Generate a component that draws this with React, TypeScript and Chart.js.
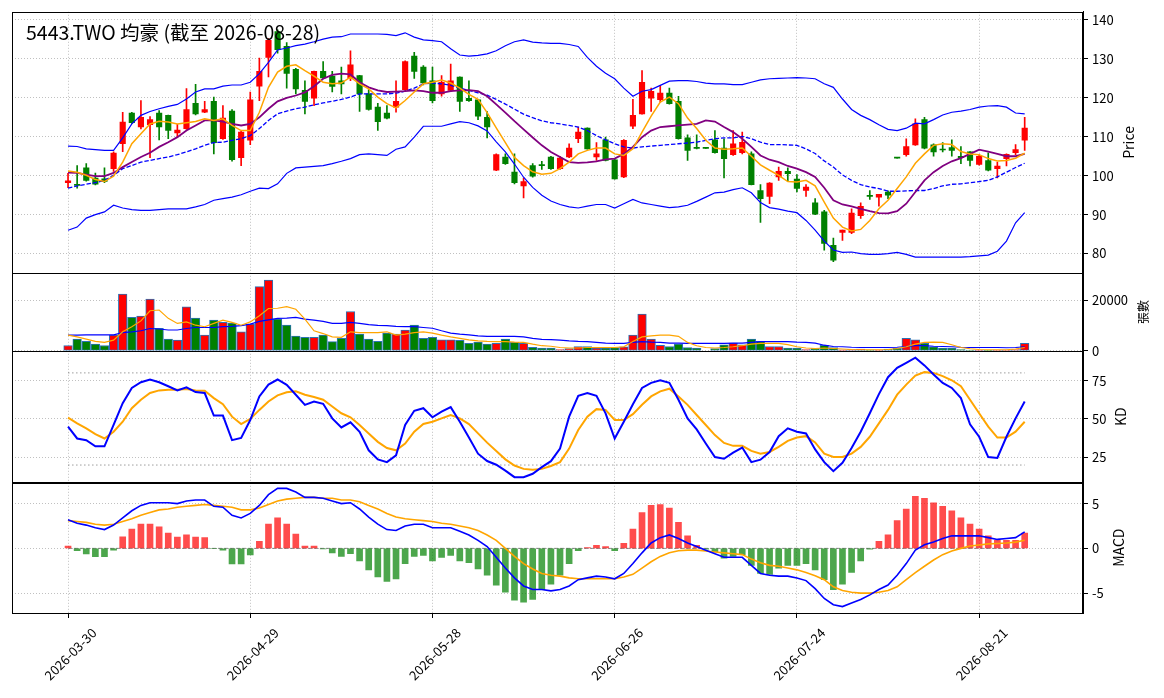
import React, { useEffect, useRef } from 'react';
import Chart from 'chart.js/auto';

// 5443.TWO daily data
const dates = [
  '2026-03-30', '2026-03-31', '2026-04-01', '2026-04-02', '2026-04-07', '2026-04-08', '2026-04-09', '2026-04-10', '2026-04-13', '2026-04-14',
  '2026-04-15', '2026-04-16', '2026-04-17', '2026-04-20', '2026-04-21', '2026-04-22', '2026-04-23', '2026-04-24', '2026-04-27', '2026-04-28',
  '2026-04-29', '2026-04-30', '2026-05-04', '2026-05-05', '2026-05-06', '2026-05-07', '2026-05-08', '2026-05-11', '2026-05-12', '2026-05-13',
  '2026-05-14', '2026-05-15', '2026-05-18', '2026-05-19', '2026-05-20', '2026-05-21', '2026-05-22', '2026-05-25', '2026-05-26', '2026-05-27',
  '2026-05-28', '2026-05-29', '2026-06-01', '2026-06-02', '2026-06-03', '2026-06-04', '2026-06-05', '2026-06-08', '2026-06-09', '2026-06-10',
  '2026-06-11', '2026-06-12', '2026-06-15', '2026-06-16', '2026-06-17', '2026-06-18', '2026-06-22', '2026-06-23', '2026-06-24', '2026-06-25',
  '2026-06-26', '2026-06-29', '2026-06-30', '2026-07-01', '2026-07-02', '2026-07-03', '2026-07-06', '2026-07-07', '2026-07-08', '2026-07-09',
  '2026-07-10', '2026-07-13', '2026-07-14', '2026-07-15', '2026-07-16', '2026-07-17', '2026-07-20', '2026-07-21', '2026-07-22', '2026-07-23',
  '2026-07-24', '2026-07-27', '2026-07-28', '2026-07-29', '2026-07-30', '2026-07-31', '2026-08-03', '2026-08-04', '2026-08-05', '2026-08-06',
  '2026-08-07', '2026-08-10', '2026-08-11', '2026-08-12', '2026-08-13', '2026-08-14', '2026-08-17', '2026-08-18', '2026-08-19', '2026-08-20',
  '2026-08-21', '2026-08-24', '2026-08-25', '2026-08-26', '2026-08-27', '2026-08-28',
];

const opens = [
  98.2, 97.8, 102.0, 99.4, 99.2, 101.8, 108.2, 116.1, 112.5, 113.1,
  116.1, 115.5, 111.0, 112.1, 118.6, 116.3, 119.1, 109.5, 116.6, 104.6,
  109.1, 123.0, 130.4, 137.0, 133.2, 127.3, 121.9, 119.9, 126.8, 125.6,
  124.4, 125.0, 125.7, 121.0, 117.6, 116.1, 117.6, 122.1, 130.7, 127.9,
  124.4, 121.0, 121.9, 125.3, 119.9, 119.5, 115.0, 101.4, 104.8, 100.9,
  97.4, 102.6, 102.8, 104.8, 101.8, 104.8, 109.5, 112.2, 104.8, 109.2,
  104.1, 99.7, 112.7, 115.9, 119.9, 119.5, 121.2, 119.1, 109.7, 107.0,
  107.0, 109.2, 107.1, 105.4, 105.9, 105.6, 96.2, 94.7, 99.7, 101.1,
  99.1, 96.2, 93.0, 90.7, 82.1, 85.4, 85.4, 89.7, 94.9, 94.5,
  95.8, 104.5, 105.4, 107.9, 114.4, 107.9, 106.8, 107.2, 105.0, 106.1,
  102.9, 103.9, 101.8, 104.4, 105.9, 109.1,
];
const highs = [
  100.6, 102.6, 103.1, 100.7, 102.0, 106.1, 116.3, 116.3, 119.3, 115.2,
  116.7, 115.6, 113.2, 122.4, 123.5, 119.1, 120.2, 118.0, 117.0, 111.4,
  121.5, 130.2, 135.2, 137.5, 134.2, 127.6, 124.4, 126.9, 129.3, 126.8,
  127.9, 132.1, 125.8, 122.1, 118.6, 118.0, 124.4, 129.5, 131.7, 128.3,
  127.9, 125.7, 128.7, 125.4, 124.4, 119.6, 116.5, 105.6, 105.6, 105.6,
  99.4, 103.1, 103.7, 105.0, 105.0, 108.2, 112.5, 112.3, 108.5, 109.9,
  104.2, 109.3, 119.6, 127.0, 122.5, 123.2, 122.5, 120.4, 110.5, 110.5,
  107.0, 111.6, 109.5, 111.6, 111.2, 106.1, 97.7, 98.2, 102.2, 102.0,
  100.3, 97.7, 94.1, 91.1, 84.0, 86.0, 91.5, 93.0, 96.2, 95.2,
  96.1, 104.5, 109.5, 114.6, 115.0, 108.2, 108.5, 109.2, 107.5, 106.2,
  105.4, 105.9, 103.5, 105.6, 108.0, 115.0,
];
const lows = [
  96.9, 96.8, 98.6, 97.6, 98.2, 101.1, 106.2, 113.4, 112.0, 104.6,
  109.2, 109.5, 109.9, 111.9, 115.6, 116.2, 105.6, 109.3, 103.7, 102.6,
  108.0, 119.3, 125.4, 131.5, 122.5, 121.0, 115.9, 118.0, 124.9, 121.5,
  121.0, 124.4, 116.5, 116.8, 111.6, 114.6, 116.3, 121.8, 125.0, 123.3,
  118.7, 120.4, 121.6, 116.5, 119.1, 114.4, 109.7, 101.3, 102.9, 97.9,
  94.3, 99.6, 101.6, 101.6, 101.6, 104.6, 108.5, 106.8, 103.9, 103.8,
  99.1, 99.5, 112.1, 115.8, 116.5, 118.9, 118.4, 109.4, 103.9, 106.9,
  107.0, 105.8, 99.4, 105.2, 105.6, 97.6, 88.0, 92.8, 98.8, 98.5,
  95.8, 94.7, 90.0, 80.9, 77.9, 83.4, 85.1, 89.0, 93.9, 92.2,
  94.1, 104.5, 105.0, 107.8, 106.9, 105.0, 106.1, 105.0, 103.1, 102.5,
  102.7, 101.2, 99.4, 102.5, 105.4, 106.5,
];
const closes = [
  98.7, 97.5, 98.8, 97.8, 98.5, 105.8, 113.8, 113.6, 115.0, 114.4,
  112.5, 111.6, 111.7, 117.0, 115.9, 117.0, 108.5, 114.8, 104.1, 111.2,
  119.5, 126.8, 134.8, 132.4, 126.3, 122.3, 119.1, 126.8, 125.1, 122.9,
  123.6, 128.5, 121.0, 117.0, 113.9, 114.8, 119.1, 129.3, 126.8, 123.8,
  119.3, 124.0, 124.4, 119.1, 119.3, 115.3, 112.5, 105.4, 103.1, 98.2,
  98.5, 99.9, 102.6, 101.8, 104.5, 107.1, 111.2, 106.9, 105.6, 103.9,
  99.2, 109.1, 115.5, 124.0, 121.7, 121.2, 118.5, 109.5, 106.5, 107.0,
  107.0, 105.9, 104.4, 108.2, 108.6, 97.7, 94.1, 98.1, 101.1, 100.5,
  96.7, 97.1, 90.1, 82.6, 78.3, 86.0, 90.4, 92.1, 94.7, 95.2,
  95.0, 104.5, 107.5, 113.3, 107.1, 106.1, 106.6, 106.5, 104.6, 103.9,
  105.0, 101.4, 102.5, 105.5, 106.7, 112.2,
];

const ma5 = [
  101.2, 100.9, 100.1, 99.0, 98.5, 99.9, 103.5, 108.2, 110.8, 113.3,
  114.0, 113.8, 113.3, 113.6, 113.9, 114.6, 114.2, 114.6, 112.9, 111.6,
  111.6, 116.3, 122.7, 126.6, 128.1, 128.5, 127.0, 125.6, 124.0, 123.6,
  123.8, 125.3, 123.6, 122.3, 120.2, 118.5, 117.4, 119.3, 121.5, 123.6,
  124.0, 124.6, 123.8, 122.5, 120.9, 119.6, 116.2, 112.3, 108.5, 104.7,
  102.6, 101.0, 100.4, 100.6, 101.8, 103.5, 105.6, 106.5, 107.1, 107.1,
  105.6, 105.2, 106.9, 111.2, 115.3, 118.9, 120.2, 118.5, 114.8, 112.1,
  109.1, 107.1, 106.8, 106.9, 107.1, 105.0, 102.8, 101.4, 100.1, 98.5,
  98.4, 98.8, 97.4, 93.2, 89.1, 86.8, 85.8, 86.2, 88.5, 91.5,
  93.7, 96.7, 99.7, 103.2, 105.6, 107.8, 108.2, 108.0, 106.2, 105.6,
  105.4, 104.4, 103.8, 103.9, 104.5, 105.8,
];
const ma10 = [
  100.8, 100.7, 100.3, 99.9, 99.9, 100.7, 102.2, 103.5, 104.8, 105.9,
  107.4, 108.6, 109.9, 111.6, 112.9, 114.2, 114.2, 113.9, 113.3, 112.9,
  113.3, 115.0, 117.2, 119.1, 120.0, 120.6, 121.4, 123.0, 124.9, 125.9,
  126.2, 126.0, 124.0, 122.7, 121.9, 121.5, 121.6, 121.7, 121.9, 121.7,
  121.3, 121.3, 121.7, 121.9, 122.0, 121.7, 120.4, 118.3, 116.2, 114.0,
  111.9, 109.8, 107.8, 106.1, 104.8, 103.5, 103.3, 103.4, 103.7, 104.2,
  104.4, 105.6, 107.4, 109.9, 111.6, 112.5, 112.7, 112.9, 113.1, 113.3,
  114.2, 113.9, 112.5, 111.2, 109.5, 107.4, 105.2, 104.1, 103.5, 102.5,
  101.8, 100.9, 99.7, 96.9, 93.7, 92.6, 92.1, 91.5, 90.9, 90.4,
  90.3, 90.9, 92.8, 95.8, 98.8, 100.9, 102.5, 103.7, 104.5, 105.6,
  106.7, 106.2, 105.6, 105.0, 105.0, 105.6,
];
const ma20 = [
  96.8, 97.4, 97.8, 98.2, 98.8, 100.1, 101.8, 102.6, 103.5, 103.9,
  104.4, 104.8, 105.4, 106.1, 106.9, 107.8, 108.5, 108.6, 109.1, 109.5,
  110.3, 112.1, 114.2, 115.9, 116.6, 117.2, 117.6, 118.2, 118.7, 119.1,
  119.6, 120.2, 121.0, 121.0, 121.0, 121.0, 121.2, 121.7, 122.5, 123.6,
  123.8, 123.6, 123.2, 122.5, 121.9, 121.3, 120.7, 119.6, 118.4, 117.1,
  115.8, 114.9, 114.1, 113.6, 113.3, 112.9, 112.5, 111.6, 110.3, 109.2,
  108.2, 107.4, 107.1, 107.4, 107.6, 107.8, 108.0, 108.2, 108.4, 108.6,
  109.1, 109.5, 109.7, 109.7, 110.1, 109.5, 108.6, 108.0, 108.0, 107.9,
  107.8, 106.9, 105.7, 103.8, 102.2, 100.2, 98.8, 97.7, 97.1, 96.7,
  96.0, 96.0, 96.1, 96.2, 96.2, 96.7, 97.4, 97.8, 97.9, 98.2,
  98.5, 98.8, 99.7, 100.9, 102.1, 103.2,
];
const bbUpper = [
  107.6, 107.5, 106.9, 106.7, 106.5, 106.5, 109.7, 113.3, 115.5, 116.5,
  117.2, 117.8, 118.3, 119.7, 121.5, 122.3, 122.3, 123.0, 123.3, 123.3,
  124.0, 126.2, 129.1, 132.3, 132.8, 133.4, 133.8, 134.4, 135.1, 135.6,
  135.7, 136.4, 136.4, 136.4, 136.4, 136.3, 136.0, 136.7, 135.6, 134.9,
  134.7, 134.4, 132.6, 131.0, 130.7, 130.9, 131.3, 132.1, 133.4, 134.4,
  134.9, 134.3, 134.1, 134.0, 134.0, 133.7, 133.2, 130.4, 128.1, 126.3,
  124.9, 122.5, 120.4, 121.7, 122.1, 123.2, 124.3, 124.4, 124.4, 124.2,
  123.8, 123.6, 123.6, 123.4, 123.4, 124.0, 124.6, 124.9, 125.0, 125.1,
  125.2, 125.1, 124.9, 123.6, 122.7, 119.7, 117.0, 115.5, 114.4, 113.1,
  111.9, 111.6, 112.2, 113.5, 113.3, 114.4, 115.6, 116.3, 116.6, 117.0,
  117.6, 117.9, 118.0, 117.6, 116.1, 115.9,
];
const bbLower = [
  86.0, 86.8, 89.1, 90.0, 90.7, 92.4, 91.7, 91.3, 91.1, 91.1,
  91.3, 91.5, 91.5, 91.5, 92.0, 92.6, 93.7, 94.1, 94.5, 95.1,
  96.0, 96.8, 96.7, 97.9, 100.6, 102.0, 102.2, 102.4, 102.6, 103.1,
  103.7, 104.4, 105.4, 105.6, 105.4, 105.2, 106.8, 107.4, 109.9, 112.7,
  112.7, 112.7, 113.3, 113.9, 113.6, 112.8, 111.5, 108.7, 106.1, 103.0,
  99.6, 97.0, 95.0, 93.5, 92.6, 92.0, 91.7, 92.2, 92.6, 92.6,
  91.7, 92.8, 93.9, 93.0, 92.6, 92.2, 91.8, 92.0, 92.4, 93.4,
  94.5, 95.6, 95.8, 96.4, 96.9, 95.6, 93.1, 91.8, 91.4, 90.9,
  90.5, 88.5, 86.0, 83.2, 80.9, 80.3, 80.4, 80.0, 79.8, 79.8,
  80.0, 80.3, 79.8, 79.1, 79.1, 79.1, 79.1, 79.1, 79.1, 79.2,
  79.4, 79.6, 80.6, 83.2, 87.9, 90.5,
];

const volumes = [
  2100, 4600, 3700, 2600, 2100, 6200, 22400, 13200, 13700, 20400,
  8900, 4600, 4200, 17400, 12900, 6200, 12100, 11200, 10900, 7500,
  10500, 25300, 27900, 12500, 10100, 5800, 5300, 5300, 6200, 3600,
  4900, 15500, 6600, 4600, 3700, 7000, 6600, 8200, 10100, 4900,
  5300, 4300, 4300, 4100, 2900, 3400, 2600, 2900, 4600, 3300,
  2900, 1400, 1100, 1100, 500, 900, 1700, 1700, 1100, 1100,
  1300, 1600, 6200, 14500, 4600, 2200, 1700, 2600, 1300, 1100,
  0, 900, 2400, 3000, 2400, 4600, 3700, 1700, 1700, 1100,
  1100, 500, 900, 2200, 1300, 400, 500, 700, 400, 400,
  700, 1000, 4900, 4300, 2900, 1600, 1100, 1100, 500, 300,
  300, 150, 300, 300, 500, 2900,
];
const volMa5 = [
  6200, 5500, 4600, 3700, 3300, 4200, 7500, 9500, 11800, 15800,
  16100, 12800, 10800, 11400, 10100, 9500, 10800, 12100, 11200, 10100,
  11400, 13800, 16700, 16800, 17400, 16400, 12500, 7900, 6800, 5500,
  5300, 7500, 7200, 7200, 7200, 7500, 6200, 6600, 7200, 7500,
  7000, 6200, 5500, 4900, 4300, 3900, 3700, 3600, 3600, 3400,
  3300, 2600, 2000, 1800, 1300, 1100, 1100, 1300, 1300, 1300,
  1300, 1600, 3700, 5500, 5900, 6200, 6200, 5700, 3300, 2000,
  1300, 1100, 1300, 1600, 2000, 2600, 2900, 2900, 2900, 2400,
  1600, 1100, 900, 1100, 900, 700, 500, 400, 400, 400,
  500, 900, 1600, 2600, 3300, 3400, 3300, 2400, 1300, 800,
  500, 400, 400, 400, 700, 1300,
];
const volMa20 = [
  6200, 6200, 6300, 6300, 6300, 6300, 7200, 7500, 7900, 8800,
  8600, 8200, 8200, 8800, 9200, 9200, 9200, 9500, 9600, 9900,
  10500, 11600, 12200, 12800, 12900, 13200, 12500, 12100, 11600, 10800,
  10800, 11200, 10800, 10300, 10000, 9900, 9600, 9500, 9500, 9200,
  8900, 7900, 7000, 6600, 6300, 5900, 5700, 5700, 5700, 5700,
  5500, 4900, 4500, 4400, 4200, 3900, 3700, 3600, 3300, 3000,
  2900, 2900, 3300, 3600, 3400, 3300, 3000, 3000, 2900, 2900,
  2900, 2900, 2900, 3000, 3000, 3300, 3600, 3600, 3600, 3600,
  3400, 3300, 3000, 2200, 1700, 1600, 1400, 1300, 1300, 1300,
  1300, 1400, 1700, 2000, 2000, 1800, 1700, 1600, 1400, 1300,
  1300, 1300, 1300, 1200, 1300, 1600,
];

const kValues = [
  45.0, 37.3, 36.2, 32.2, 32.2, 46.1, 60.3, 70.2, 73.9, 75.7,
  73.9, 71.3, 68.6, 70.6, 67.5, 66.9, 52.2, 52.2, 36.2, 37.7,
  49.3, 64.7, 72.4, 75.7, 72.2, 65.8, 59.2, 61.4, 59.9, 50.4,
  44.5, 47.8, 41.7, 29.6, 23.7, 21.9, 26.3, 46.1, 55.3, 57.0,
  51.1, 54.8, 57.7, 48.2, 37.9, 27.4, 22.6, 20.2, 16.4, 12.1,
  12.1, 14.3, 18.6, 22.5, 30.7, 51.5, 65.1, 66.9, 65.1, 53.7,
  37.3, 48.2, 59.6, 70.2, 73.5, 75.2, 73.5, 62.5, 50.4, 43.2,
  34.0, 25.2, 24.1, 28.1, 31.4, 21.9, 23.5, 28.5, 38.8, 43.9,
  41.7, 40.6, 30.2, 21.9, 16.0, 21.5, 31.1, 41.7, 53.7, 66.2,
  77.2, 83.3, 86.6, 89.9, 84.9, 79.0, 73.5, 70.2, 63.6, 46.5,
  38.4, 25.2, 24.6, 38.4, 50.4, 61.4,
];
const dValues = [
  50.9, 47.1, 43.9, 40.1, 37.3, 41.7, 48.2, 57.0, 62.5, 66.9,
  68.6, 69.1, 69.1, 69.5, 68.6, 68.4, 63.6, 59.6, 51.5, 46.7,
  50.0, 55.9, 61.4, 65.4, 67.4, 68.0, 65.8, 64.3, 62.5, 58.1,
  53.7, 51.1, 46.1, 40.6, 35.1, 31.1, 29.6, 34.0, 41.7, 46.7,
  48.2, 50.4, 52.6, 50.4, 46.7, 40.6, 34.6, 29.2, 23.7, 19.7,
  17.5, 16.9, 17.5, 19.4, 21.9, 30.7, 42.8, 51.5, 56.4, 55.9,
  49.3, 49.3, 53.1, 59.2, 64.7, 68.0, 69.7, 64.7, 59.2, 52.6,
  46.1, 39.5, 34.4, 32.5, 32.5, 29.2, 27.4, 28.5, 31.8, 35.7,
  37.9, 38.8, 34.7, 27.4, 25.2, 25.2, 27.4, 31.8, 38.4, 47.1,
  55.9, 65.8, 72.4, 78.3, 80.5, 80.0, 77.9, 75.2, 71.3, 62.5,
  53.7, 45.0, 37.9, 37.9, 41.7, 48.2,
];
const kdLevels = [20, 80];

const dif = [
  3.2, 2.8, 2.6, 2.3, 2.1, 2.6, 3.4, 4.2, 4.8, 5.1,
  5.1, 5.1, 5.0, 5.3, 5.4, 5.4, 4.7, 4.6, 3.7, 3.4,
  3.9, 4.8, 6.0, 6.7, 6.7, 6.3, 5.7, 5.7, 5.6, 5.3,
  5.0, 5.1, 4.4, 3.5, 2.7, 2.1, 2.0, 2.5, 2.7, 2.7,
  2.3, 2.3, 2.3, 1.9, 1.5, 0.9, 0.2, -1.0, -2.2, -3.3,
  -4.2, -4.6, -4.6, -4.75, -4.6, -4.2, -3.5, -3.3, -3.1, -3.2,
  -3.4, -2.8, -1.7, -0.5, 0.6, 1.2, 1.5, 1.1, 0.6, 0.2,
  -0.2, -0.6, -1.0, -1.0, -1.0, -1.9, -2.8, -3.0, -3.1, -3.1,
  -3.3, -3.6, -4.5, -5.6, -6.3, -6.5, -6.1, -5.7, -5.2, -4.6,
  -4.1, -3.0, -1.7, -0.2, 0.4, 0.7, 1.1, 1.4, 1.4, 1.4,
  1.4, 1.2, 1.0, 1.1, 1.2, 1.85,
];
const dea = [
  3.1, 3.0, 2.9, 2.7, 2.6, 2.7, 3.0, 3.3, 3.7, 4.0,
  4.3, 4.4, 4.6, 4.7, 4.8, 4.9, 4.8, 4.7, 4.6, 4.3,
  4.3, 4.5, 4.9, 5.3, 5.5, 5.6, 5.7, 5.7, 5.6, 5.6,
  5.4, 5.4, 5.2, 4.8, 4.4, 3.9, 3.5, 3.3, 3.2, 3.1,
  3.0, 2.8, 2.7, 2.5, 2.3, 2.0, 1.5, 0.9, 0.0, -0.9,
  -1.7, -2.3, -2.8, -3.0, -3.1, -3.3, -3.4, -3.4, -3.4, -3.4,
  -3.4, -3.2, -2.9, -2.2, -1.5, -0.9, -0.5, -0.26, -0.2, -0.2,
  -0.3, -0.4, -0.5, -0.6, -0.7, -1.2, -1.6, -1.9, -2.0, -2.2,
  -2.4, -2.7, -3.05, -3.5, -4.3, -4.7, -4.9, -5.0, -5.0, -4.9,
  -4.7, -4.3, -3.5, -2.7, -2.0, -1.3, -0.7, -0.3, 0.0, 0.26,
  0.37, 0.5, 0.55, 0.6, 0.7, 0.9,
];
const macdHist = [
  0.26, -0.26, -0.63, -0.93, -0.93, -0.2, 1.3, 2.15, 2.7, 2.7,
  2.4, 1.7, 1.26, 1.5, 1.26, 1.2, -0.04, -0.2, -1.74, -1.74,
  -0.74, 0.8, 2.7, 3.4, 2.7, 1.6, 0.26, 0.26, -0.05, -0.5,
  -0.9, -0.6, -1.4, -2.4, -3.2, -3.7, -3.4, -1.7, -0.9, -0.8,
  -1.4, -1.0, -0.8, -1.4, -1.6, -2.3, -3.0, -4.1, -4.9, -5.8,
  -6.0, -5.7, -4.6, -4.0, -3.0, -1.7, -0.26, 0.1, 0.33, 0.2,
  -0.26, 0.55, 2.15, 4.0, 4.8, 4.9, 4.5, 2.9, 1.4, 0.33,
  -0.1, -0.4, -1.1, -0.9, -0.7, -1.9, -2.8, -2.9, -2.2, -1.9,
  -1.9, -1.7, -2.4, -3.5, -4.6, -4.0, -2.7, -1.4, -0.1, 0.8,
  1.5, 3.1, 4.4, 5.8, 5.6, 5.1, 4.7, 4.2, 3.4, 2.7,
  2.15, 1.4, 0.9, 0.9, 0.9, 1.7,
];

const xTickIdx = [0, 20, 40, 60, 80, 100];
const priceTicks = [80, 90, 100, 110, 120, 130, 140];
const volumeTicks = [0, 20000];
const kdTicks = [25, 50, 75];
const macdTicks = [-5, 0, 5];

const titleText = '5443.TWO 均豪 (截至 2026-08-28)';
const FONT = '"Noto Sans CJK TC", "Noto Sans", "DejaVu Sans", sans-serif';
const UP = '#ff0000';
const DOWN = '#008000';
const GRID = '#b0b0b0';

const pts = (arr: number[]) => arr.map((y, x) => ({ x, y }));
const lastIdx = dates.length - 1;

const yAxis = (stackWeight: number, weight: number, min: number, max: number, tickVals: number[]) => ({
  type: 'linear',
  position: 'right',
  stack: 'panels',
  stackWeight,
  weight,
  min,
  max,
  afterBuildTicks: (s: any) => {
    s.ticks = tickVals.map(v => ({ value: v }));
  },
  afterFit: (s: any) => {
    s.width = 81;
  },
  grid: { color: GRID, lineWidth: 0.8, drawTicks: true, tickLength: 5, tickColor: '#000', tickWidth: 1, tickBorderDash: [] },
  border: { display: true, color: '#000', width: 1, dash: [1, 2] },
  ticks: { color: '#000', padding: 4, font: { family: FONT, size: 13 }, callback: (v: number) => String(v) },
});

const line = (data: number[], yAxisID: string, color: string, width: number, dash: number[] = []) => ({
  type: 'line',
  data: pts(data),
  yAxisID,
  borderColor: color,
  borderWidth: width,
  borderDash: dash,
  pointRadius: 0,
  fill: false,
  tension: 0,
  order: 0,
});

const App: React.FC = () => {
  const canvasRef = useRef<HTMLCanvasElement>(null);
  const chartRef = useRef<Chart>();

  useEffect(() => {
    const canvas = canvasRef.current;
    if (!canvas) return;
    const ctx = canvas.getContext('2d');
    if (!ctx) return;
    if (chartRef.current) chartRef.current.destroy();

    const candleColors = closes.map((c, i) => (c > opens[i] ? UP : DOWN));
    const histColors = macdHist.map(v => (v > 0 ? 'rgba(255,0,0,0.7)' : 'rgba(0,128,0,0.7)'));

    const panelPlugin = {
      id: 'panelDecor',
      afterDatasetsDraw(chart: any) {
        const c = chart.ctx;
        const area = chart.chartArea;
        c.save();
        // panel frames
        c.strokeStyle = '#000';
        c.lineWidth = 1;
        ['yP', 'yV', 'yK', 'yM'].forEach(id => {
          const s = chart.scales[id];
          c.strokeRect(Math.round(area.left) + 0.5, Math.round(s.top) + 0.5, Math.round(area.right - area.left) - 1, Math.round(s.bottom - s.top));
        });
        // title
        c.fillStyle = '#000';
        c.font = `19.5px ${FONT}`;
        c.textAlign = 'left';
        c.textBaseline = 'alphabetic';
        c.fillText(titleText, area.left + 14, area.top + 28);
        // right axis titles, reading bottom to top
        const vLabel = (text: string, id: string, dx: number, size: number) => {
          const s = chart.scales[id];
          c.save();
          c.translate(area.right + dx, (s.top + s.bottom) / 2);
          c.rotate(-Math.PI / 2);
          c.font = `${size}px ${FONT}`;
          c.textAlign = 'center';
          c.textBaseline = 'middle';
          c.fillText(text, 0, 0);
          c.restore();
        };
        vLabel('Price', 'yP', 46, 14);
        vLabel('張數', 'yV', 60, 12);
        vLabel('KD', 'yK', 38, 14);
        vLabel('MACD', 'yM', 36, 14);
        c.restore();
      },
    };

    chartRef.current = new Chart(ctx, {
      type: 'bar',
      data: {
        datasets: [
          // price panel
          line(ma5, 'yP', 'orange', 1.5),
          line(ma10, 'yP', 'purple', 1.8),
          line(ma20, 'yP', 'blue', 1.3, [4.4, 1.9]),
          line(bbUpper, 'yP', 'blue', 1.2),
          line(bbLower, 'yP', 'blue', 1.2),
          {
            type: 'bar',
            data: opens.map((o, i) => ({ x: i, y: [o, closes[i]] })),
            yAxisID: 'yP',
            backgroundColor: candleColors,
            borderWidth: 0,
            barThickness: 5.5,
            minBarLength: 1,
            grouped: false,
            order: 1,
          },
          {
            type: 'bar',
            data: lows.map((l, i) => ({ x: i, y: [l, highs[i]] })),
            yAxisID: 'yP',
            backgroundColor: candleColors,
            borderWidth: 0,
            barThickness: 1,
            grouped: false,
            order: 2,
          },
          // volume panel
          line(volMa5, 'yV', 'orange', 1.2),
          line(volMa20, 'yV', 'blue', 1.2),
          {
            type: 'bar',
            data: volumes.map((v, i) => ({ x: i, y: v })),
            yAxisID: 'yV',
            backgroundColor: candleColors,
            borderColor: '#2a72b5',
            borderWidth: 1,
            borderSkipped: false,
            barThickness: 8.6,
            grouped: false,
            order: 1,
          },
          // KD panel
          line(kValues, 'yK', 'blue', 2),
          line(dValues, 'yK', 'orange', 2),
          ...kdLevels.map(lv => ({
            type: 'line',
            data: [{ x: 0, y: lv }, { x: lastIdx, y: lv }],
            yAxisID: 'yK',
            borderColor: 'rgba(90,90,90,0.6)',
            borderWidth: 1,
            borderDash: [1.5, 2.5],
            pointRadius: 0,
            order: 3,
          })),
          // MACD panel
          line(dif, 'yM', 'blue', 1.6),
          line(dea, 'yM', 'orange', 1.6),
          {
            type: 'line',
            data: [{ x: 0, y: 0 }, { x: lastIdx, y: 0 }],
            yAxisID: 'yM',
            borderColor: 'rgba(110,110,110,0.8)',
            borderWidth: 1,
            borderDash: [4, 2],
            pointRadius: 0,
            order: 3,
          },
          {
            type: 'bar',
            data: macdHist.map((v, i) => ({ x: i, y: v })),
            yAxisID: 'yM',
            backgroundColor: histColors,
            borderWidth: 0,
            barThickness: 6,
            grouped: false,
            order: 2,
          },
        ],
      },
      options: {
        responsive: false,
        animation: false,
        events: [],
        layout: { padding: { left: 12, top: 10, right: 0, bottom: 0 } },
        plugins: { legend: { display: false }, tooltip: { enabled: false }, title: { display: false } },
        scales: {
          x: {
            type: 'linear',
            min: -6.15,
            max: 111.4,
            offset: false,
            afterBuildTicks: (s: any) => {
              s.ticks = xTickIdx.map(v => ({ value: v }));
            },
            afterFit: (s: any) => {
              s.height = 85;
            },
            grid: { offset: false, color: GRID, lineWidth: 0.8, tickLength: 5, tickColor: '#000', tickWidth: 1, tickBorderDash: [] },
            border: { display: true, color: '#000', width: 1, dash: [1, 2] },
            ticks: {
              autoSkip: false,
              minRotation: 45,
              maxRotation: 45,
              labelOffset: 26,
              padding: 7,
              color: '#000',
              font: { family: FONT, size: 13 },
              callback: (v: number) => dates[v] ?? '',
            },
          },
          yP: yAxis(262, 0, 75, 142.1, priceTicks),
          yV: yAxis(78, 1, 0, 30700, volumeTicks),
          yK: yAxis(132, 2, 8.7, 94.4, kdTicks),
          yM: yAxis(131, 3, -7.22, 7.37, macdTicks),
        },
      } as any,
      plugins: [panelPlugin],
    } as any);

    return () => {
      if (chartRef.current) {
        chartRef.current.destroy();
        chartRef.current = undefined;
      }
    };
  }, []);

  return (
    <div style={{ position: 'absolute', left: 0, top: 0, width: 1164, height: 698, background: '#fff' }}>
      <canvas ref={canvasRef} width={1164} height={698} style={{ display: 'block' }}></canvas>
    </div>
  );
};

export default App;
